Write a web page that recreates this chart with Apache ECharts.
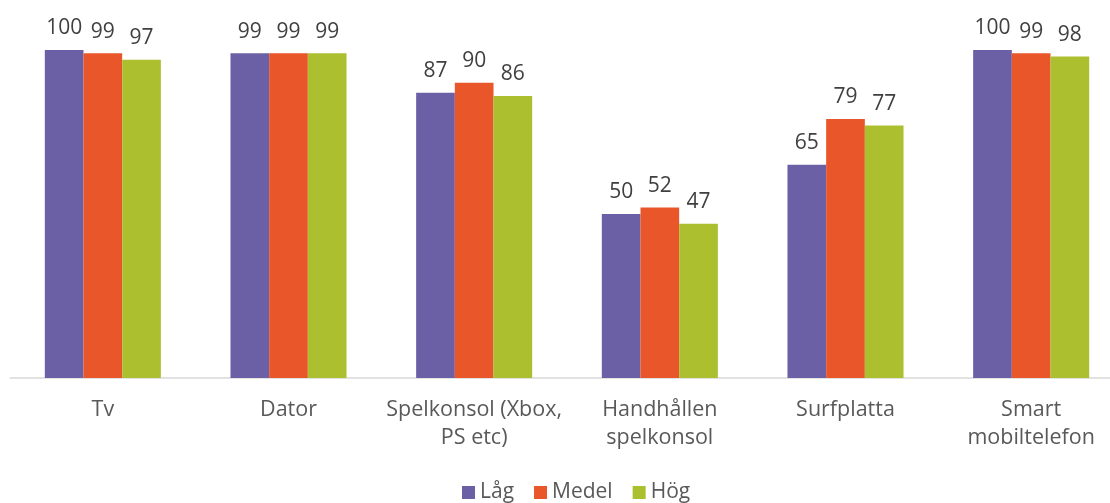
<!DOCTYPE html>
<html><head><meta charset="utf-8">
<script src="https://cdn.jsdelivr.net/npm/echarts@6/dist/echarts.min.js"></script>
<style>html,body{margin:0;padding:0;background:#fff;overflow:hidden}#c{width:1124px;height:503px}</style>
</head><body><div id="c"></div>
<script>
var categories = ['Tv', 'Dator', 'Spelkonsol (Xbox,\nPS etc)', 'Handhållen\nspelkonsol', 'Surfplatta', 'Smart\nmobiltelefon'];
var seriesNames = ['Låg', 'Medel', 'Hög'];
var lag = [100, 99, 87, 50, 65, 100];
var medel = [99, 99, 90, 52, 79, 99];
var hog = [97, 99, 86, 47, 77, 98];
var colors = ['#6B5FA5', '#E8562A', '#ABBF2F'];
var font = '"Open Sans", sans-serif';
var chart = echarts.init(document.getElementById('c'));
function mk(name, data, color) {
  return {
    name: name, type: 'bar', data: data, barGap: '0%', barCategoryGap: '37.5%',
    itemStyle: { color: color },
    label: { show: true, position: 'top', distance: 11, color: '#404040', fontSize: 21, fontFamily: font }
  };
}
chart.setOption({
  animation: false,
  color: colors,
  grid: { left: 10, right: 0, top: 50, bottom: 125, containLabel: false },
  legend: {
    bottom: -5, left: 457, itemWidth: 13, itemHeight: 13, itemGap: 20,
    icon: 'rect',
    textStyle: { color: '#595959', fontSize: 21, fontFamily: font },
    data: seriesNames
  },
  xAxis: {
    type: 'category', data: categories,
    axisLine: { lineStyle: { color: '#D9D9D9', width: 1.5 } },
    axisTick: { show: false },
    axisLabel: { color: '#595959', fontSize: 21.5, fontFamily: font, lineHeight: 28, margin: 18, interval: 0 }
  },
  yAxis: { type: 'value', min: 0, max: 100, show: false, splitLine: { show: false } },
  series: [mk(seriesNames[0], lag, colors[0]), mk(seriesNames[1], medel, colors[1]), mk(seriesNames[2], hog, colors[2])]
});
</script></body></html>
